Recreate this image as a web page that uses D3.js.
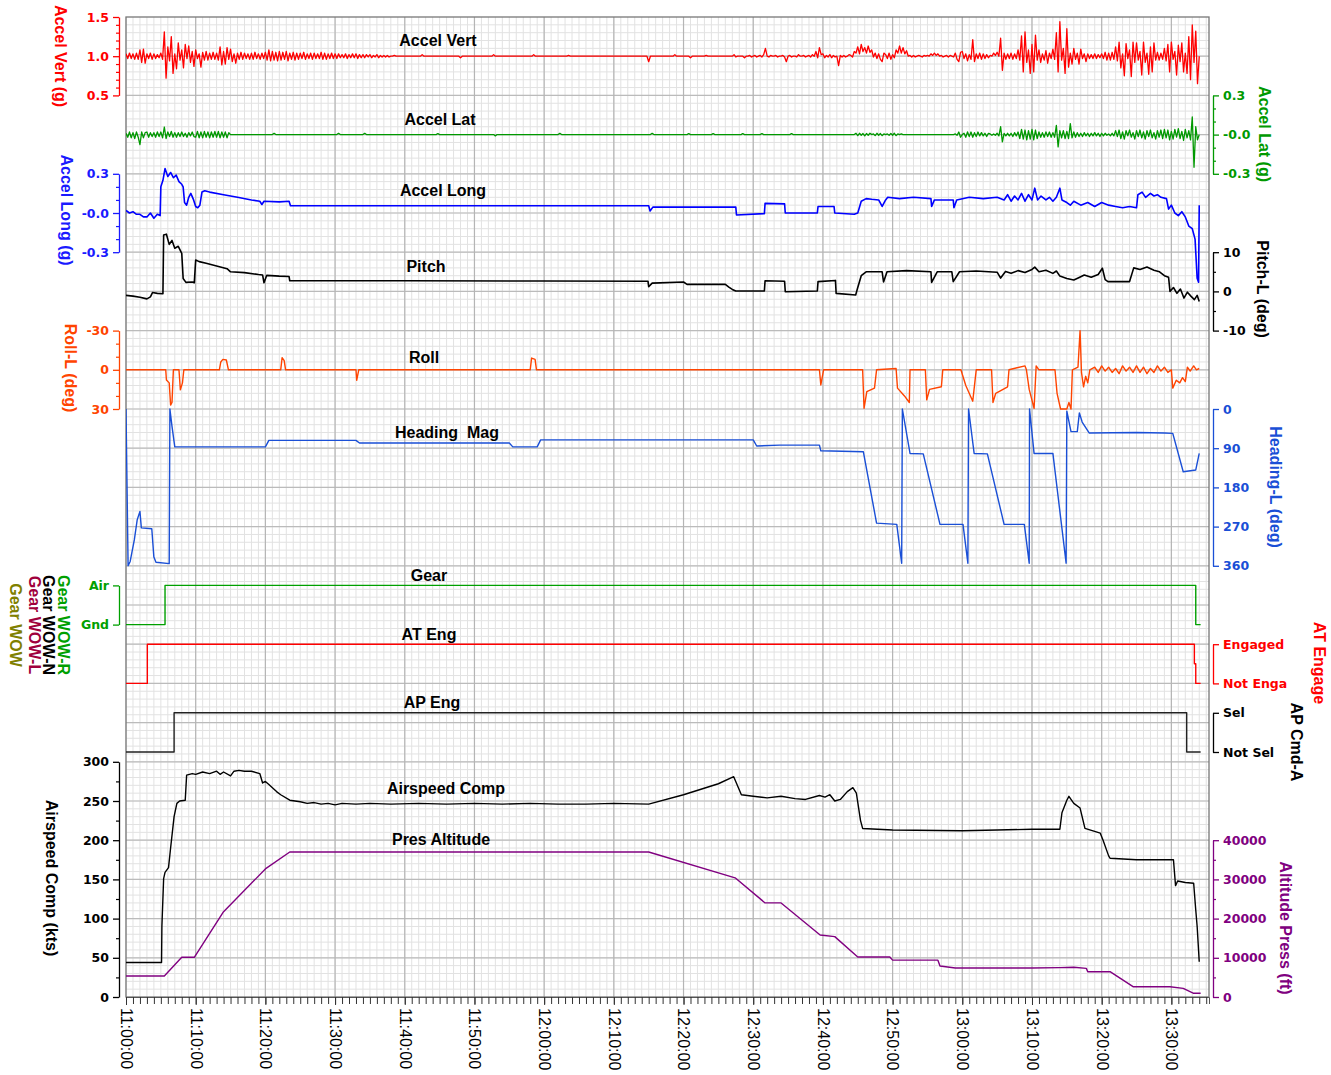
<!DOCTYPE html>
<html>
<head>
<meta charset="utf-8">
<script src="https://cdn.jsdelivr.net/npm/d3@7"></script>
<style>
body { margin: 0; background: #fff; }
</style>
</head>
<body>
<svg id="chart" width="1331" height="1075"></svg>
<script>
// ---- data (time in minutes after 11:00:00) ----
var sampleStep = 0.25;

// Accel Vert, hundredths of g
var accelVertCg = [
  103,97,104,97, 103,96,104,96, 108,92,109,91, 103,97,104,96, 103,97,102,98, 104,96,131,72, 112,94,125,78, 103,84,117,95, 108,85,115,97, 113,92,106,87,
  108,97,103,86, 105,95,106,95, 104,96,105,96, 104,95,112,89, 106,90,111,96, 109,93,103,91, 104,96,105,96, 104,97,103,96, 104,96,105,97, 103,96,104,97,
  105,95,108,94, 106,95,105,94, 106,95,105,96, 106,94,104,96, 105,95,104,96, 104,97,105,96, 103,97,104,96, 104,97,103,97, 105,96,104,96, 103,97,104,97,
  103,97,103,98, 102,98,103,97, 102,98,103,98, 103,97,102,98, 102,98,102,99, 102,98,101,99, 102,98,101,99, 101,99,101,99, 100,100,101,100, 100,100,100,100,
  100,100,100,100, 100,100,100,100, 100,100,102,100, 100,100,100,100, 100,100,100,100, 100,100,100,100, 100,100,100,100, 100,100,100,100, 98,100,100,100, 100,100,100,100,
  100,100,100,100, 100,100,100,100, 100,100,100,102, 100,100,100,100, 100,100,100,100, 100,100,100,100, 100,100,100,100, 100,100,100,100, 100,100,102,100, 100,100,100,100,
  100,100,100,100, 100,100,100,100, 100,100,100,100, 100,100,101,100, 100,100,100,100, 100,100,100,100, 100,100,100,100, 100,100,100,100, 100,100,100,100, 100,100,100,100,
  100,100,100,100, 100,100,100,100, 100,100,100,100, 100,100,100,100, 100,100,100,100, 93,100,100,100, 100,100,100,100, 100,100,100,100, 100,100,100,102, 100,100,100,100,
  100,100,100,100, 98,100,100,100, 100,100,100,100, 100,101,100,100, 100,100,100,100, 100,100,100,100, 100,100,100,100, 100,102,99,100, 100,100,100,98, 100,100,101,99,
  100,101,99,100, 101,99,102,110, 100,99,101,100, 100,101,99,100, 100,101,99,93, 100,101,99,100, 100,99,102,100, 100,101,99,100, 101,99,102,100, 106,98,111,102,
  103,98,101,99, 102,98,101,99, 100,88,101,99, 101,99,100,102, 101,99,106,104, 112,103,115,106, 111,104,113,105, 108,99,104,97, 103,96,93,104, 102,97,104,96,
  102,98,108,104, 113,104,111,103, 107,100,101,99, 101,99,100,101, 100,99,101,100, 101,100,103,101, 104,101,103,100, 101,99,100,101, 99,101,100,99, 104,96,93,105,
  106,97,103,94, 102,96,121,93, 103,97,104,96, 103,97,102,98, 101,100,104,101, 105,100,123,82, 104,96,103,97, 104,96,103,97, 108,95,126,80, 131,92,108,78,
  115,80,127,95, 108,92,103,95, 107,91,104,97, 109,96,130,80, 144,95,110,78, 135,86,104,90, 110,96,104,90, 109,97,103,93, 103,97,102,97, 103,97,102,98,
  103,97,105,95, 104,95,105,96, 112,94,118,85, 103,75,116,97, 108,74,118,92, 117,95,106,76, 118,92,104,77, 112,80,117,95, 105,95,104,96, 110,94,115,80,
  118,96,106,76, 114,93,117,80, 104,78,125,70, 140,92,132,65, 100
];

// Accel Lat, thousandths of g
var accelLatMg = [
  10,-20,20,-25, 15,-30,20,-20, -77,20,-25,15, 20,-20,15,-15, 15,-20,20,-15, 20,-25,58,-30, 20,-15,25,-20, 15,-20,15,-15, 20,-15,10,-20, 15,-10,20,-15,
  -20,25,-25,20, -25,25,-20,20, -25,20,-20,25, -20,25,-25,20, -20,20,-25,15, 0,0,0,0, 0,0,0,0, 0,0,0,0, 0,0,0,0, 0,0,0,0,
  0,0,0,0, 0,10,0,0, 0,0,0,0, 0,0,0,0, 0,0,0,0, 0,0,0,0, 0,0,0,0, 0,0,0,0, 0,0,0,0, 0,0,0,0,
  0,0,10,0, 0,0,0,0, 0,0,0,0, 0,0,0,0, 0,10,0,0, 0,0,0,0, 0,0,0,0, 0,0,0,0, 0,0,0,0, 0,0,0,0,
  0,0,0,0, 0,0,0,0, 0,0,0,0, 0,0,0,0, 0,0,0,8, 0,0,0,0, 0,0,0,0, 0,0,0,0, 0,0,0,0, 0,0,0,0,
  0,0,0,0, 0,0,0,0, 0,0,0,0, -10,0,0,0, 0,0,0,0, 0,0,0,0, 0,0,0,0, 0,0,0,0, 0,0,0,0, 0,0,0,0,
  0,0,0,0, 0,0,0,0, 0,10,0,0, 0,0,0,0, 0,0,0,0, 0,0,0,0, 0,0,0,0, 0,0,0,0, 0,0,0,0, 0,0,0,0,
  0,0,0,0, 0,0,0,0, 0,0,0,0, 0,0,0,0, 0,0,0,0, 0,0,10,0, 0,0,0,0, 0,0,0,0, 0,0,0,0, 0,0,0,0,
  0,0,0,8, 0,0,0,0, 0,0,0,0, 0,0,0,0, 0,8,0,0, 0,0,0,0, 0,0,0,0, 0,0,0,0, 0,0,8,0, 0,0,0,0,
  0,0,0,0, 0,8,0,0, 0,0,0,0, 0,0,0,0, 0,0,0,0, 0,0,8,0, 0,0,0,0, 0,0,0,0, 0,0,0,0, 0,0,0,0,
  0,0,0,0, 0,0,0,0, 0,0,0,0, 0,0,0,0, 0,0,0,10, -8,10,-5,8, -10,8,-5,10, 0,5,-8,10, -5,8,-8,5, 0,5,-5,8,
  -5,10,-8,5, 0,5,0,0, 0,0,0,0, 0,0,0,0, 0,0,0,0, 0,0,0,0, 0,0,0,0, 0,0,0,0, 0,0,0,0, 5,-5,20,-20,
  0,10,-20,20, -15,20,-20,15, -15,20,-10,15, -10,10,-15,10, 5,-5,5,-5, 10,-10,60,-56, 10,-10,10,-10, 10,-15,15,-10, 20,-30,40,-35, 35,-40,30,-35,
  40,-40,35,-30, 20,-20,15,-20, 20,-15,20,-20, 15,-20,70,-94, 30,-25,30,-30, 25,-30,84,-25, 20,-20,15,-15, 10,-15,15,-10, 10,-15,10,-10, 15,-10,10,-15,
  10,-10,10,-5, 5,-10,10,-10, 30,-15,35,-30, 20,-35,30,-10, 35,-20,15,-35, 30,-15,35,-25, 20,-35,30,-15, 35,-25,15,-35, 30,-20,35,-30, 40,-25,35,-40,
  25,-35,40,-20, 45,-30,25,-45, 40,-25,30,-40, 135,-250,60,-40, 0
];

var accelLong = [
  [0,0.02],[0.5,0.0],[1,0.01],[1.5,-0.01],[2,-0.01],[2.5,-0.03],[3,-0.03],[3.5,0.0],[4,-0.04],[4.5,-0.01],[4.9,-0.02],
  [5.0,0.2],[5.3,0.25],[5.6,0.34],[6,0.28],[6.4,0.31],[6.8,0.27],[7.2,0.29],[7.6,0.24],[8,0.22],[8.2,0.2],[8.4,0.08],
  [8.7,0.06],[9,0.12],[9.3,0.15],[9.7,0.1],[10,0.05],[10.3,0.04],[10.6,0.06],[10.9,0.16],[11.3,0.17],[12,0.16],[14,0.14],
  [16,0.12],[18,0.1],[19.2,0.09],[19.5,0.065],[19.8,0.09],[22,0.085],[23.4,0.09],[23.6,0.056],[55,0.056],
  [75,0.056],[75.2,0.015],[75.6,0.045],[87.5,0.045],[87.6,-0.015],[91.6,-0.005],[91.7,0.074],[94.5,0.07],
  [94.6,0.0],[99.2,0.0],[99.3,0.05],[101.6,0.05],[101.7,0.0],[104.5,-0.01],[105,0.0],[105.5,0.09],[106.2,0.11],
  [107,0.105],[108,0.1],[108.5,0.05],[109,0.1],[109.3,0.12],[111,0.11],[113,0.12],[115.5,0.11],[115.6,0.05],
  [116,0.1],[118.7,0.1],[118.8,0.04],[119.2,0.1],[121,0.12],[123,0.11],[125,0.12],[126,0.1],[126.5,0.14],
  [127,0.09],[127.5,0.13],[128,0.1],[128.5,0.15],[129,0.09],[129.5,0.14],[130,0.1],[130.4,0.19],[130.8,0.1],
  [131.3,0.13],[132,0.1],[132.5,0.12],[133,0.09],[133.5,0.12],[134,0.19],[134.3,0.1],[135,0.08],[135.5,0.06],
  [136,0.09],[137,0.06],[138,0.08],[139,0.05],[140,0.08],[141,0.06],[142,0.05],[143,0.04],[144,0.05],[145,0.04],
  [145.2,0.14],[145.8,0.16],[146.3,0.12],[147,0.15],[147.5,0.13],[148,0.14],[148.5,0.12],[149.3,0.11],[149.6,0.03],
  [150,0.06],[150.5,0.0],[151,-0.02],[151.5,0.01],[152,-0.03],[152.5,-0.1],[153,-0.12],[153.4,-0.2],[153.7,-0.5],
  [153.9,-0.53],[154,0.06]
];

var pitch = [
  [0,-1],[1,-1.2],[2,-1.5],[3,-1.9],[3.5,-1.4],[3.8,-0.3],[4.5,-0.5],[5.3,-0.6],[5.4,14.4],[5.8,14.6],
  [6.2,12],[6.6,13],[7,11],[7.5,11.5],[8,9.7],[8.2,3.3],[8.6,2.3],[9.5,2.4],[9.8,2.2],[10,8],[10.5,7.6],
  [11.5,7.2],[13,6.5],[14.5,5.8],[15,5],[17,4.8],[19,4.3],[19.6,4.2],[19.8,2.2],[20.2,4.1],[22,3.9],[23.4,3.8],
  [23.5,2.7],[40,2.7],[60,2.65],[74.9,2.6],[75,1.2],[75.5,2.1],[80,2.4],[80.5,1.8],[86,1.8],[86.5,1.1],[87,0.5],
  [87.5,0.1],[91.6,0.1],[91.7,2.7],[94.5,2.6],[94.6,-0.1],[99.2,0.1],[99.3,2.5],[101.8,2.8],[101.9,-0.5],
  [104.7,-0.9],[105,1],[105.5,4],[106.2,5],[108.5,5],[108.7,2.4],[109.2,5],[112,5.3],[115.5,5],[115.6,2.3],
  [116.4,5],[118.5,5],[118.7,2.5],[119.6,5],[122,5.2],[125,4.9],[125.5,3.4],[126.2,5.1],[127,4.6],[128,5.3],
  [129,4.8],[130,5.6],[130.4,6.2],[131,5],[132,5.4],[133,4.6],[133.5,5.2],[134,3.9],[135,3.3],[136,2.9],
  [136.7,3.5],[137.5,4.2],[138.5,3.6],[139.5,4.3],[140.1,5.9],[140.5,3],[140.9,2.5],[144,2.5],[144.6,6],
  [145.5,5.6],[146.5,6.2],[147.5,5.4],[148.3,5],[149,4],[149.6,3.6],[149.8,0],[150.3,1],[150.8,-0.5],[151.3,0.6],
  [151.8,-1.7],[152.3,-0.2],[152.8,-1.2],[153.3,-2.1],[153.7,-1],[154,-2.6]
];

var roll = [
  [0,0],[5.7,0],[5.8,7.8],[6.2,10],[6.4,27],[6.6,25],[6.8,0],[7.6,0],[7.8,15.4],[8.1,10],[8.3,0],[13.4,0],
  [13.6,-6],[13.9,-8],[14.4,-7.5],[14.7,0],[22.2,0],[22.4,-9.3],[22.7,-7],[22.9,0],[33,0],[33.1,8],[33.4,0],
  [58,0],[58.2,-9],[58.7,-8],[58.9,0],[99.5,0],[99.7,11.6],[100.1,0],[105.7,0],[105.9,29.5],[106.3,16.7],
  [107.4,14],[107.7,0],[110.5,-1],[110.7,14],[111.7,20],[112.4,25],[112.5,0],[114.7,0],[114.9,23],[115.3,15],
  [117,13],[117.2,0],[119.8,0],[120.5,12],[121.5,24],[122,0],[124.2,0],[124.4,25],[124.8,18],[126.5,13],
  [126.7,0],[129,-3],[129.2,0],[129.6,15],[130.3,29.5],[130.6,-3],[131,0],[133.3,0],[133.6,18],[134.1,30],
  [135,30],[135.3,25],[135.6,30],[135.8,0],[136.6,-2],[136.9,-30],[137.1,2],[137.4,13],[137.7,5],[138,10],
  [138.3,0],[139,-2],[139.5,2],[140,-3],[140.5,1],[141,-2],[141.5,2],[142,-1],[142.5,3],[143,-3],[143.5,1],
  [144,-2],[144.5,2],[145,-3],[145.5,2],[146,-2],[146.5,3],[147,-1],[147.5,2],[148,-3],[148.5,1],[149,-2],
  [149.5,2],[150,0],[150.2,14],[150.7,8],[151.2,10],[151.6,6],[152,9],[152.3,-2],[152.7,1],[153.2,-3],
  [153.6,0],[154,-1]
];

var heading = [
  [0,0],[0.3,360],[0.6,350],[1.2,300],[1.6,255],[2,235],[2.2,273],[3.7,275],[4,340],[4.3,352],[6.2,355],
  [6.3,0],[6.6,40],[7,87],[20,87],[20.5,72],[33,72],[33.5,78],[55,78],[55.5,87],[59,87],[59.5,71],[90,71],
  [90.5,85],[93.8,83],[99.5,83],[99.7,96],[105.8,98],[107.7,262],[110.6,265],[111.3,354],[111.4,0],[112.5,102],
  [114.4,103],[116.8,265],[120.1,265],[120.8,354],[120.9,0],[121.7,102],[123.6,103],[126,265],[128.9,265],
  [129.6,354],[129.65,0],[130.3,102],[133,102],[134.9,354],[135,5],[135.6,52],[136.5,52],[136.8,9],[137.2,30],
  [138.2,55],[145,54],[149,55],[150.2,56],[151.7,144],[153.5,140],[154,102]
];

var airspeed = [
  [0,44],[5.1,44],[5.15,90],[5.4,151],[5.6,159],[6.1,165],[6.4,190],[6.9,230],[7.3,247],[7.7,250],[8.5,251],
  [8.7,283],[9.5,285],[10,284],[11,287],[12,285],[13,288],[13.5,284],[14,287],[15,282],[15.5,288],[16.2,289],
  [17,288],[18,288],[19.2,285],[19.6,273],[20,275],[20.5,271],[21.6,262],[22.2,258],[23.5,251],[25,249],
  [26,247],[27,248],[28,246],[29,247],[30,245],[31,247],[33,246],[35,247],[38,246],[42,247],[46,246],[50,247],
  [54,246],[58,247],[62,246],[66,246],[70,247],[75,246],[80,258],[85,272],[87.2,281],[88.3,258],
  [90,256],[92,254],[94,256],[96,253],[97.5,252],[99.5,257],[100.3,255],[101,258],[101.7,250],[102.5,252],
  [103.5,262],[104.3,267],[104.8,260],[105.4,225],[105.7,215],[110,213],[120,212],[125,213],[130,214],[134,214],
  [134.3,235],[135,251],[135.3,256],[136,247],[136.9,241],[137.6,215],[139.8,209],[140.2,200],[141,180],
  [141.2,177],[145,175],[150.3,175],[150.6,142],[150.9,148],[152,146],[153.2,145],[153.5,111],[153.7,90],[154,45]
];

var altitude = [
  [0,5360],[5.5,5360],[8,10130],[9.8,10130],[14,21770],[20.1,32830],[23.5,37000],[75,37000],[87.4,30400],
  [91.7,24000],[94,24000],[99.6,15800],[101.7,15400],[105,10200],[109.6,10200],[110,9400],[116.5,9400],
  [116.8,7900],[119,7400],[130,7400],[134,7500],[136,7600],[137.8,7300],[138,6460],[141.2,6460],[144.5,2630],
  [149.8,2600],[151.7,2200],[153.2,940],[154.2,940]
];

var gearWow = [[0,0],[5.6,1],[153.5,0],[154.2,0]];
var atEngage = [[0,0],[3.06,1],[153.3,0.5],[153.5,0],[154.2,0]];
var apCmd = [[0,0],[6.9,1],[152.2,0],[154.2,0]];

// ---- layout ----
var svg = d3.select("#chart");
var plotL = 126, plotR = 1209, plotT = 17, plotB = 997, row = 39.2;
function rowY(k) { return plotT + row * k; }
var t0 = new Date(2000, 0, 1, 11, 0, 0);
function toDate(m) { return new Date(t0.getTime() + m * 60000); }
var tEnd = 155.4;

var x = d3.scaleTime().domain([t0, toDate(tEnd)]).range([plotL, plotR]);

var yVert = d3.scaleLinear().domain([0.5, 1.5]).range([rowY(2), rowY(0)]);
var yLat = d3.scaleLinear().domain([-0.3, 0.3]).range([rowY(4), rowY(2)]);
var yLong = d3.scaleLinear().domain([-0.3, 0.3]).range([rowY(6), rowY(4)]);
var yPitch = d3.scaleLinear().domain([-10, 10]).range([rowY(8), rowY(6)]);
var yRoll = d3.scaleLinear().domain([-30, 30]).range([rowY(8), rowY(10)]);
var yHead = d3.scaleLinear().domain([0, 360]).range([rowY(10), rowY(14)]);
var yGear = d3.scaleLinear().domain([0, 1]).range([rowY(15.5), rowY(14.5)]);
var yAt = d3.scaleLinear().domain([0, 1]).range([rowY(17), rowY(16)]);
var yAp = d3.scaleLinear().domain([0, 1]).range([rowY(18.75), rowY(17.75)]);
var yAir = d3.scaleLinear().domain([0, 300]).range([rowY(25), rowY(19)]);
var yAlt = d3.scaleLinear().domain([0, 40000]).range([rowY(25), rowY(21)]);

// ---- grid ----
var grid = svg.append("g");
var minutes = d3.timeMinute.range(t0, toDate(tEnd));
grid.selectAll("line.vmin").data(minutes).join("line")
  .attr("x1", d => x(d)).attr("x2", d => x(d))
  .attr("y1", plotT).attr("y2", plotB)
  .attr("stroke", "#e2e2e2").attr("stroke-width", 1);
grid.selectAll("line.hmin").data(d3.range(1, 125)).join("line")
  .attr("x1", plotL).attr("x2", plotR)
  .attr("y1", d => plotT + d * row / 5).attr("y2", d => plotT + d * row / 5)
  .attr("stroke", "#e2e2e2").attr("stroke-width", 1);
grid.selectAll("line.hmaj").data(d3.range(1, 25)).join("line")
  .attr("x1", plotL).attr("x2", plotR)
  .attr("y1", d => rowY(d)).attr("y2", d => rowY(d))
  .attr("stroke", "#bbbbbb").attr("stroke-width", 1.2);
grid.selectAll("line.vmaj").data(d3.timeMinute.every(10).range(toDate(1), toDate(tEnd))).join("line")
  .attr("x1", d => x(d)).attr("x2", d => x(d))
  .attr("y1", plotT).attr("y2", plotB)
  .attr("stroke", "#b5b5b5").attr("stroke-width", 1.2);

svg.append("rect").attr("x", plotL).attr("y", plotT)
  .attr("width", plotR - plotL).attr("height", plotB - plotT)
  .attr("fill", "none").attr("stroke", "#777").attr("stroke-width", 1.3);

// ---- traces ----
svg.append("clipPath").attr("id", "clip").append("rect")
  .attr("x", plotL).attr("y", plotT).attr("width", plotR - plotL).attr("height", plotB - plotT);
var plot = svg.append("g").attr("clip-path", "url(#clip)");

function trace(pts, yScale, color, curve, width) {
  plot.append("path").datum(pts)
    .attr("fill", "none").attr("stroke", color)
    .attr("stroke-width", width || 1.4).attr("stroke-linejoin", "round")
    .attr("d", d3.line().x(d => x(toDate(d[0]))).y(d => yScale(d[1])).curve(curve || d3.curveLinear));
}
function sampled(vals, unit) { return vals.map((v, i) => [i * sampleStep, v / unit]); }

trace(sampled(accelVertCg, 100), yVert, "#ff0000", null, 1.3);
trace(sampled(accelLatMg, 1000), yLat, "#009900", null, 1.3);
trace(accelLong, yLong, "#0000ff", null, 1.6);
trace(pitch, yPitch, "#000000", null, 1.6);
trace(roll, yRoll, "#ff4400", null, 1.4);
trace(heading, yHead, "#1a4fd6", null, 1.4);
trace(gearWow, yGear, "#00a000", d3.curveStepAfter, 1.4);
trace(atEngage, yAt, "#ff0000", d3.curveStepAfter, 1.4);
trace(apCmd, yAp, "#222222", d3.curveStepAfter, 1.4);
trace(altitude, yAlt, "#800080", null, 1.4);
trace(airspeed, yAir, "#000000", null, 1.4);

// ---- panel titles ----
var titles = [
  ["Accel Vert", 438, 46], ["Accel Lat", 440, 125], ["Accel Long", 443, 196], ["Pitch", 426, 272],
  ["Roll", 424, 363], ["Heading  Mag", 447, 438], ["Gear", 429, 581], ["AT Eng", 429, 640],
  ["AP Eng", 432, 708], ["Airspeed Comp", 446, 794], ["Pres Altitude", 441, 845]
];
svg.append("g").selectAll("text").data(titles).join("text")
  .attr("x", d => d[1]).attr("y", d => d[2])
  .attr("text-anchor", "middle")
  .style("font-family", "'Liberation Sans', Arial, sans-serif")
  .style("font-size", "16px").style("font-weight", "bold")
  .style("white-space", "pre")
  .attr("fill", "#000")
  .text(d => d[0]);

// ---- value axes ----
function valueAxis(side, scale, major, labels, minor, color) {
  var ax = side === "left" ? 119 : 1213;
  var make = side === "left" ? d3.axisLeft : d3.axisRight;
  if (minor) {
    var gm = svg.append("g").attr("transform", "translate(" + ax + ",0)");
    gm.call(make(scale).tickValues(minor).tickSize(3).tickFormat(""));
    gm.select(".domain").remove();
    gm.selectAll("line").attr("stroke", color).attr("stroke-width", 1.2);
  }
  var g = svg.append("g").attr("transform", "translate(" + ax + ",0)");
  g.call(make(scale).tickValues(major).tickSize(6).tickSizeOuter(0).tickPadding(4)
    .tickFormat((d, i) => labels[i]));
  g.select(".domain").attr("stroke", color).attr("stroke-width", 1.3);
  g.selectAll("line").attr("stroke", color).attr("stroke-width", 1.3);
  g.selectAll("text").attr("fill", color)
    .style("font-family", "'DejaVu Sans', Verdana, sans-serif")
    .style("font-size", "12.5px").style("font-weight", "bold");
}

valueAxis("left", yVert, [1.5, 1.0, 0.5], ["1.5", "1.0", "0.5"], [1.4, 1.3, 1.2, 1.1, 0.9, 0.8, 0.7, 0.6], "#ff0000");
valueAxis("right", yLat, [0.3, 0, -0.3], ["0.3", "-0.0", "-0.3"], [0.2, 0.1, -0.1, -0.2], "#009900");
valueAxis("left", yLong, [0.3, 0, -0.3], ["0.3", "-0.0", "-0.3"], [0.2, 0.1, -0.1, -0.2], "#1a1aff");
valueAxis("right", yPitch, [10, 0, -10], ["10", "0", "-10"], [5, -5], "#000000");
valueAxis("left", yRoll, [-30, 0, 30], ["-30", "0", "30"], [-20, -10, 10, 20], "#ff4400");
valueAxis("right", yHead, [0, 90, 180, 270, 360], ["0", "90", "180", "270", "360"], null, "#1a4fd6");
valueAxis("left", yGear, [1, 0], ["Air", "Gnd"], null, "#00a000");
valueAxis("right", yAt, [1, 0], ["Engaged", "Not Enga"], null, "#ff0000");
valueAxis("right", yAp, [1, 0], ["Sel", "Not Sel"], null, "#000000");
valueAxis("left", yAir, [300, 250, 200, 150, 100, 50, 0], ["300", "250", "200", "150", "100", "50", "0"],
  [275, 225, 175, 125, 75, 25], "#000000");
valueAxis("right", yAlt, [40000, 30000, 20000, 10000, 0], ["40000", "30000", "20000", "10000", "0"],
  [35000, 25000, 15000, 5000], "#800080");

// ---- axis titles (rotated) ----
var axisTitles = [
  ["Accel Vert (g)", 61, 56, "#ff0000"],
  ["Accel Long (g)", 67, 210, "#1a1aff"],
  ["Roll-L (deg)", 71, 368, "#ff4400"],
  ["Gear WOW-R", 64, 625, "#00a000"],
  ["Gear WOW-N", 49, 625, "#000000"],
  ["Gear WOW-L", 35, 625, "#a0003c"],
  ["Gear WOW", 16, 625, "#808000"],
  ["Airspeed Comp (kts)", 52, 878, "#000000"],
  ["Accel Lat (g)", 1265, 134, "#009900"],
  ["Pitch-L (deg)", 1263, 289, "#000000"],
  ["Heading-L (deg)", 1276, 487, "#1a4fd6"],
  ["AT Engage", 1320, 663, "#ff0000"],
  ["AP Cmd-A", 1297, 742, "#000000"],
  ["Altitude Press (ft)", 1286, 928, "#800080"]
];
svg.append("g").selectAll("text").data(axisTitles).join("text")
  .attr("transform", d => "translate(" + d[1] + "," + d[2] + ") rotate(90)")
  .attr("text-anchor", "middle").attr("dy", "0.35em")
  .style("font-family", "'Liberation Sans', Arial, sans-serif")
  .style("font-size", "16px").style("font-weight", "bold")
  .attr("fill", d => d[3])
  .text(d => d[0]);

// ---- time axis ----
var gx = svg.append("g").attr("transform", "translate(0," + plotB + ")");
gx.call(d3.axisBottom(x).ticks(d3.timeMinute.every(1)).tickSize(7).tickFormat(""));
gx.select(".domain").attr("stroke", "#555");
gx.selectAll("line").attr("stroke", "#333");
var gx2 = svg.append("g").attr("transform", "translate(0," + plotB + ")");
gx2.call(d3.axisBottom(x).ticks(d3.timeMinute.every(10)).tickSize(8).tickFormat(d3.timeFormat("%H:%M:%S")));
gx2.select(".domain").remove();
gx2.selectAll("line").attr("stroke", "#333");
gx2.selectAll("text")
  .attr("transform", "rotate(90)")
  .attr("x", 11).attr("y", 0).attr("dy", "0.35em")
  .attr("text-anchor", "start")
  .attr("fill", "#000")
  .style("font-family", "'Liberation Sans', Arial, sans-serif")
  .style("font-size", "16px");
</script>
</body>
</html>
